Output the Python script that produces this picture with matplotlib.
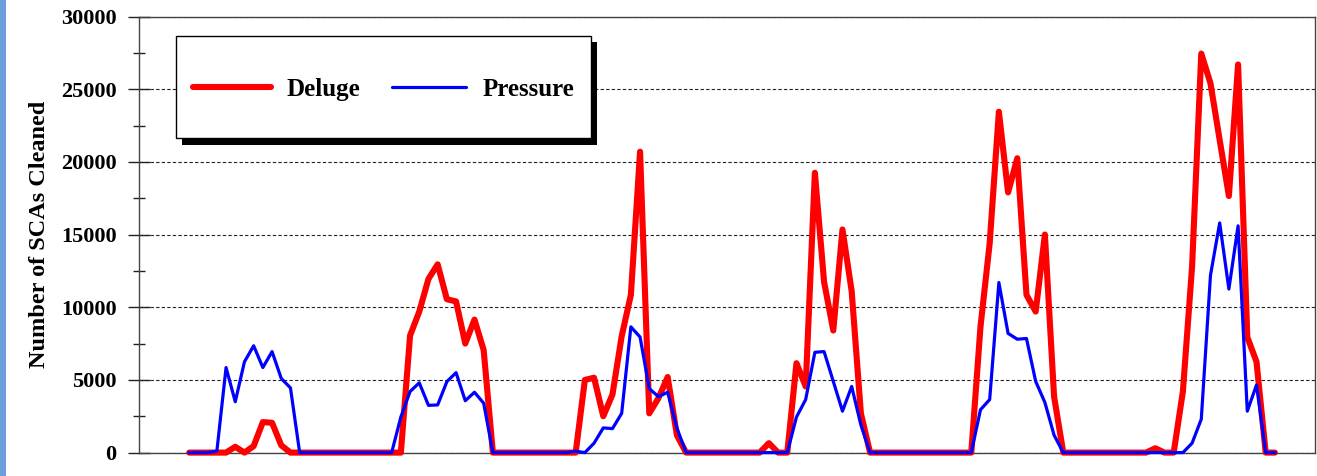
import matplotlib
matplotlib.use("Agg")
import matplotlib.pyplot as plt
import numpy as np
from matplotlib.patches import Rectangle
from matplotlib.lines import Line2D
from matplotlib.ticker import MultipleLocator

# SCAs cleaned per period, six seasons
deluge = [
    0, 0, 0, 0, 0, 400, 0, 450, 2100, 2050, 500, 0,
    0, 0, 0, 0, 0, 0, 0, 0, 0, 0, 0,
    0, 8050, 9700, 11950, 12950, 10550, 10400, 7500, 9150, 7050,
    0, 0, 0, 0, 0, 0, 0, 0, 0, 0,
    5000, 5150, 2500, 4000, 8000, 10850, 20700, 2700, 3750, 5200, 1200,
    0, 0, 0, 0, 0, 0, 0, 0, 0,
    650, 0, 0, 6150, 4550, 19250, 11750, 8400, 15350, 11100, 2700,
    0, 0, 0, 0, 0, 0, 0, 0, 0, 0, 0, 0,
    8650, 14400, 23450, 17900, 20250, 10850, 9700, 15000, 3850,
    0, 0, 0, 0, 0, 0, 0, 0, 0, 0,
    300, 0, 0, 4200, 12800, 27450, 25400, 21500, 17650, 26700, 7950, 6250,
    0, 0,
]
pressure = [
    0, 0, 0, 100, 5850, 3500, 6250, 7350, 5850, 6950, 5100, 4450,
    0, 0, 0, 0, 0, 0, 0, 0, 0, 0, 0,
    2450, 4200, 4800, 3250, 3280, 4880, 5500, 3570, 4150, 3400,
    0, 0, 0, 0, 0, 0, 0, 0, 0, 100,
    0, 650, 1700, 1650, 2700, 8650, 7950, 4400, 3850, 4150, 1700,
    0, 0, 0, 0, 0, 0, 0, 0, 0,
    0, 0, 0, 2450, 3650, 6900, 6950, 4900, 2850, 4550, 1900,
    0, 0, 0, 0, 0, 0, 0, 0, 0, 0, 0, 0,
    2950, 3650, 11700, 8200, 7800, 7850, 4900, 3450, 1200,
    0, 0, 0, 0, 0, 0, 0, 0, 0, 0,
    0, 0, 0, 0, 650, 2300, 12200, 15800, 11250, 15600, 2850, 4650,
    0, 0,
]
series_labels = ["Deluge", "Pressure"]
y_label = "Number of SCAs Cleaned"

SERIF = "Liberation Serif"
W, H = 1317, 476

fig = plt.figure(figsize=(W / 100, H / 100), dpi=100)
fig.patch.set_facecolor("white")
# textured blue page edge on the far left
fig.patches.append(Rectangle((0, 0), 6 / W, 1, transform=fig.transFigure,
                             facecolor="#6d9edb", edgecolor="none"))

L, R, T, B = 139.3, 1315.0, 16.5, 452.6
ax = fig.add_axes([L / W, 1 - B / H, (R - L) / W, (B - T) / H])

x = np.arange(len(deluge))
ax.plot(x, deluge, color="#ff0000", lw=4.4, solid_joinstyle="round",
        solid_capstyle="round", clip_on=False, zorder=3)
ax.plot(x, pressure, color="#0000ff", lw=2.3, solid_joinstyle="round",
        clip_on=False, zorder=4)

ax.set_xlim(-5.43, 122.36)
ax.set_ylim(0, 30000)
ax.yaxis.set_major_locator(MultipleLocator(5000))
ax.yaxis.set_minor_locator(MultipleLocator(2500))
ax.set_xticks([])
ax.tick_params(axis="y", which="major", direction="inout", length=16.5,
               width=1.0, color="#222222", pad=8)
ax.tick_params(axis="y", which="minor", direction="inout", length=8.6,
               width=1.0, color="#222222")
for lab in ax.get_yticklabels():
    lab.set_fontfamily(SERIF)
    lab.set_fontweight("bold")
    lab.set_fontsize(16)

ax.set_axisbelow(True)
ax.yaxis.grid(True, which="major", color="#222222", lw=0.8, linestyle=(0, (3, 2)))
for sp in ax.spines.values():
    sp.set_color("#444444")
    sp.set_linewidth(1.0)

ax.set_ylabel(y_label, fontfamily=SERIF, fontweight="bold", fontsize=17.5)
ax.yaxis.set_label_coords(-0.076, 0.5)


# hand-built legend box with a drop shadow
def px(v):
    return (v - L) / (R - L)


def py(v):
    return (B - v) / (B - T)


ax.add_patch(Rectangle((px(182), py(145)), px(597) - px(182), py(42) - py(145),
                       transform=ax.transAxes, facecolor="black", edgecolor="none",
                       zorder=6, clip_on=False))
ax.add_patch(Rectangle((px(176), py(138.3)), px(590.7) - px(176), py(36) - py(138.3),
                       transform=ax.transAxes, facecolor="white", edgecolor="black",
                       lw=1.0, zorder=7, clip_on=False))
handles = [((193, 271), "#ff0000", 4.4, 286.7), ((391.7, 466), "#0000ff", 2.3, 483)]
for ((x0, x1), col, lw, tx), lab in zip(handles, series_labels):
    ax.add_line(Line2D([px(x0), px(x1)], [py(87), py(87)], transform=ax.transAxes,
                       color=col, lw=lw, solid_capstyle="round", zorder=8,
                       clip_on=False))
    ax.text(px(tx), py(96), lab, transform=ax.transAxes, fontfamily=SERIF,
            fontweight="bold", fontsize=18, ha="left", va="baseline", zorder=8)

fig.savefig("out.png", dpi=100, facecolor="white")
